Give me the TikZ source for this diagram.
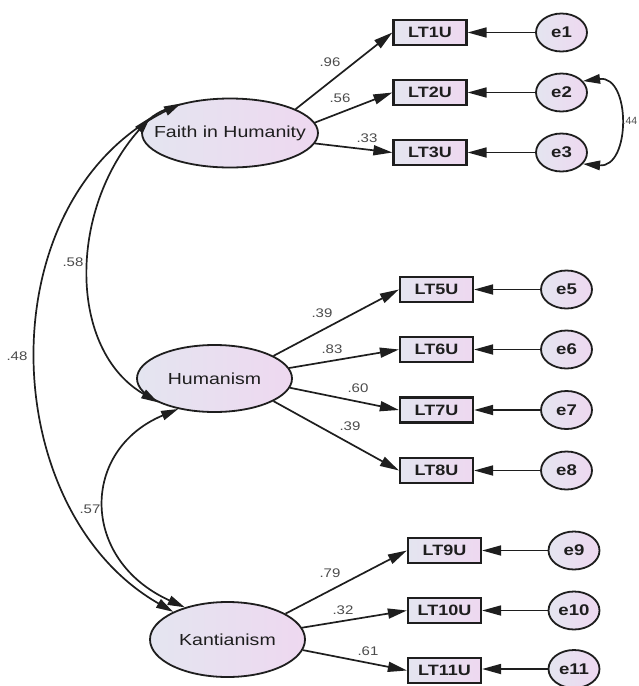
\documentclass[tikz,border=0pt]{standalone}
\usepackage{fontspec}
\setmainfont{Liberation Sans}
\usetikzlibrary{arrows.meta,shapes.geometric}
\definecolor{lc}{RGB}{228,229,240}
\definecolor{rc}{RGB}{238,216,240}
\definecolor{ink}{RGB}{30,30,30}
\newcommand{\sx}[1]{\scalebox{1.2}[1]{#1}}
\tikzset{
  lat/.style={ellipse, draw=ink, line width=1.8pt, left color=lc, right color=rc, inner sep=0pt,
    text=ink, font=\fontsize{16}{16}\selectfont},
  obs/.style={rectangle, draw=ink, line width=2.2pt, left color=lc, right color=rc, inner sep=0pt,
    minimum width=73pt, minimum height=25pt, text=ink, font=\fontsize{15}{15}\selectfont\bfseries},
  err/.style={ellipse, draw=ink, line width=1.8pt, left color=lc, right color=rc, inner sep=0pt,
    minimum width=51pt, minimum height=38pt, text=ink, font=\fontsize{15.5}{15.5}\selectfont\bfseries},
  arr/.style={draw=ink, line width=1.7pt, -{Triangle[length=19pt,width=10pt]}},
  cov/.style={draw=ink, line width=1.7pt, {Triangle[length=17pt,width=9.5pt]}-{Triangle[length=17pt,width=9.5pt]}},
  coef/.style={inner sep=0pt, text=black!70, font=\fontsize{12.5}{12.5}\selectfont}
}
\begin{document}
\begin{tikzpicture}[x=1pt,y=-1pt]
\useasboundingbox (0,0) rectangle (639,686);
\fill[white] (0,0) rectangle (639,686);
% latent variables
\node[lat, minimum width=176pt, minimum height=69pt] (F) at (230,133) {\makebox[0pt]{\scalebox{1.22}[1]{Faith in Humanity}}};
\node[lat, minimum width=155pt, minimum height=67pt] (H) at (214.5,378.5) {\makebox[0pt]{\scalebox{1.22}[1]{Humanism}}};
\node[lat, minimum width=155pt, minimum height=75pt] (K) at (227.5,639.5) {\makebox[0pt]{\scalebox{1.22}[1]{Kantianism}}};
% observed variables
\node[obs] (L1) at (430,32.5) {\sx{LT1U}};
\node[obs] (L2) at (430,92.5) {\sx{LT2U}};
\node[obs] (L3) at (430,152.5) {\sx{LT3U}};
\node[obs] (L5) at (436.5,289.5) {\sx{LT5U}};
\node[obs] (L6) at (436.5,349.5) {\sx{LT6U}};
\node[obs] (L7) at (436.5,410) {\sx{LT7U}};
\node[obs] (L8) at (436.5,470.5) {\sx{LT8U}};
\node[obs] (L9) at (444.5,550.5) {\sx{LT9U}};
\node[obs] (L10) at (444.5,610.5) {\sx{LT10U}};
\node[obs] (L11) at (444.5,670.5) {\sx{LT11U}};
% error terms
\node[err] (e1) at (561.5,32.5) {\makebox[0pt]{\sx{e1}}};
\node[err] (e2) at (561.5,92.5) {\makebox[0pt]{\sx{e2}}};
\node[err] (e3) at (561.5,152.5) {\makebox[0pt]{\sx{e3}}};
\node[err] (e5) at (566.5,289.5) {\makebox[0pt]{\sx{e5}}};
\node[err] (e6) at (566.5,349.5) {\makebox[0pt]{\sx{e6}}};
\node[err] (e7) at (566.5,410) {\makebox[0pt]{\sx{e7}}};
\node[err] (e8) at (566.5,470.5) {\makebox[0pt]{\sx{e8}}};
\node[err] (e9) at (574,550.5) {\makebox[0pt]{\sx{e9}}};
\node[err] (e10) at (574,610.5) {\makebox[0pt]{\sx{e10}}};
\node[err] (e11) at (574,669) {\makebox[0pt]{\sx{e11}}};
% loadings
\draw[arr] (F.20.5) -- (L1.west);
\draw[arr] (F.7.4) -- (L2.west);
\draw[arr] (F.-7.8) -- (L3.west);
\draw[arr] (H.21.9) -- (L5.west);
\draw[arr] (H.8.4) -- (L6.west);
\draw[arr] (H.-7.7) -- (L7.west);
\draw[arr] (H.-21.9) -- (L8.west);
\draw[arr] (K.24) -- (L9.west);
\draw[arr] (K.9.4) -- (L10.west);
\draw[arr] (K.-8.7) -- (L11.west);
% errors
\foreach \i in {1,2,3,5,6,7,8,9,10}{\draw[arr] (e\i.west) -- (L\i.east);}
\draw[arr] (e11.west) -- (e11.west -| L11.east);
% covariances
\draw[cov] (F.149) .. controls (-14,200) and (-5,510) .. (K.153);
\draw[cov] (F.169) .. controls (68,210) and (68,350) .. (H.203);
\draw[cov] (H.220) .. controls (80,450) and (80,560) .. (K.143);
\draw[cov] (e2.28) .. controls (631,75) and (631,168) .. (e3.-28);
% coefficient labels
\node[coef] (c1) at (330,62) {\sx{.96}};
\node[coef] (c2) at (340,98) {\sx{.56}};
\node[coef] (c3) at (367,138) {\sx{.33}};
\node[coef] (c5) at (322,313) {\sx{.39}};
\node[coef] (c6) at (332,349) {\sx{.83}};
\node[coef] (c7) at (358,388) {\sx{.60}};
\node[coef] (c8) at (350,426) {\sx{.39}};
\node[coef] (c9) at (330,573) {\sx{.79}};
\node[coef] (c10) at (343,610) {\sx{.32}};
\node[coef] (c11) at (368,651) {\sx{.61}};
\node[coef] (c58) at (73,262) {\sx{.58}};
\node[coef] (c48) at (17,356) {\sx{.48}};
\node[coef] (c57) at (90,509) {\sx{.57}};
\node[coef, anchor=west, font=\fontsize{10.5}{10.5}\selectfont] (c44) at (622.5,121) {.44};
\end{tikzpicture}
\end{document}
